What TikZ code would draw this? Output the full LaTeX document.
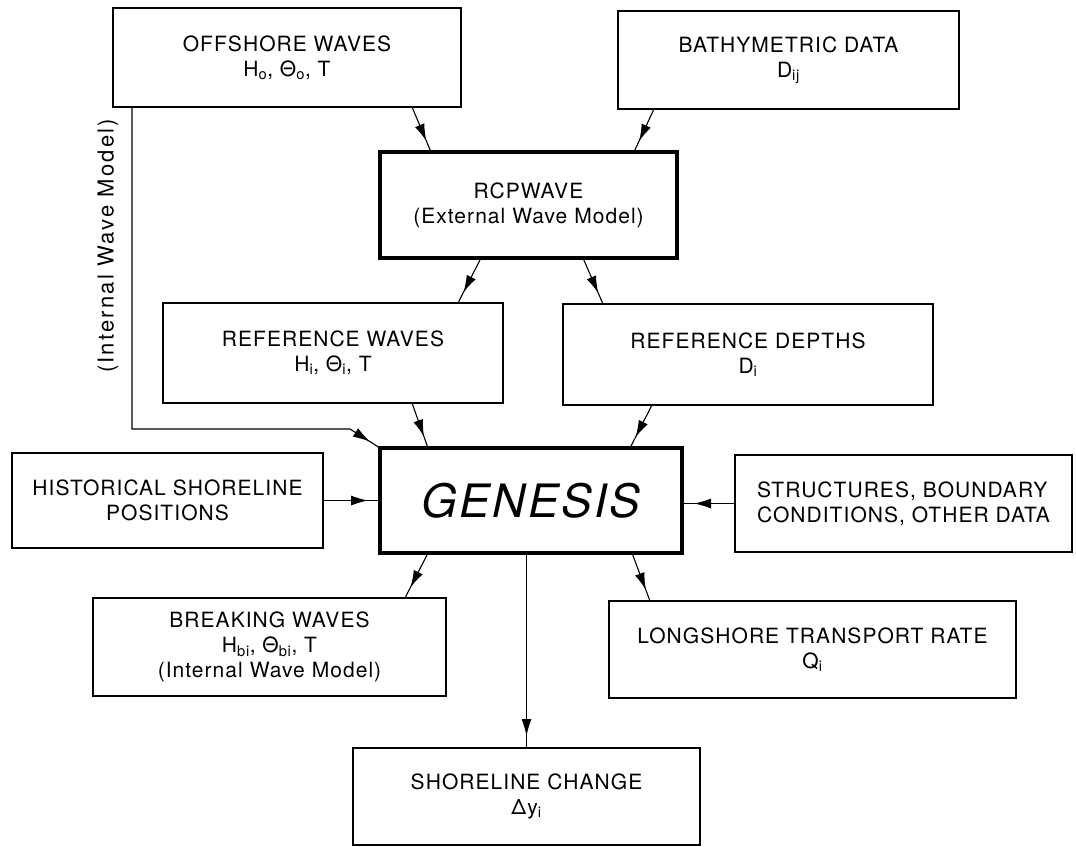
\documentclass[tikz,border=0pt]{standalone}
\usepackage{fontspec}
\setmainfont{TeX Gyre Heros}[LetterSpace=5]
\usetikzlibrary{arrows.meta,decorations.markings}

\tikzset{
  box/.style={draw, line width=2pt, inner sep=0pt, outer sep=0pt, align=center,
    font=\fontsize{21}{25}\selectfont},
  model/.style={box, line width=4.5pt},
  flow/.style={line width=1.1pt, postaction={decorate},
    decoration={markings, mark=at position -12pt with {\arrow{Latex[length=17pt,width=10pt]}}}}
}

\begin{document}
\begin{tikzpicture}[x=1pt,y=-1pt]
  \useasboundingbox (0,0) rectangle (1076,846);
  % inputs
  \node[box, minimum width=348, minimum height=99] (offshore) at (287,57.5)
    {OFFSHORE WAVES\\H\textsubscript{o}, Θ\textsubscript{o}, T};
  \node[box, minimum width=341, minimum height=98] (bathy) at (788.5,60)
    {BATHYMETRIC DATA\\D\textsubscript{ij}};
  \node[model, minimum width=297, minimum height=106] (rcp) at (528.5,205)
    {RCPWAVE\\(External Wave Model)};
  \node[box, minimum width=340, minimum height=100] (refwaves) at (333,353)
    {REFERENCE WAVES\\H\textsubscript{i}, Θ\textsubscript{i}, T};
  \node[box, minimum width=370, minimum height=101] (refdepths) at (748,354.5)
    {REFERENCE DEPTHS\\D\textsubscript{i}};
  % model
  \node[model, minimum width=302, minimum height=105,
    font=\fontsize{46}{50}\selectfont\itshape] (genesis) at (531,500.5) {GENESIS};
  \node[box, minimum width=311, minimum height=95] (hist) at (167.5,500.5)
    {HISTORICAL SHORELINE\\POSITIONS};
  \node[box, minimum width=337, minimum height=97, align=left] (struct) at (903.5,503.5)
    {STRUCTURES, BOUNDARY\\CONDITIONS, OTHER DATA};
  % outputs
  \node[box, minimum width=353, minimum height=98] (breaking) at (269.5,647)
    {BREAKING WAVES\\H\textsubscript{bi}, Θ\textsubscript{bi}, T\\(Internal Wave Model)};
  \node[box, minimum width=407, minimum height=97] (longshore) at (812.5,649.5)
    {LONGSHORE TRANSPORT RATE\\Q\textsubscript{i}};
  \node[box, minimum width=347, minimum height=97] (change) at (526.5,796.5)
    {SHORELINE CHANGE\\Δy\textsubscript{i}};
  \node[rotate=90, font=\fontsize{22}{25}\selectfont\addfontfeatures{LetterSpace=10}]
    (internal) at (108,246) {(Internal Wave Model)};
  \coordinate (bend) at (350,429);

  % connectors
  \draw[flow] ([xshift=125pt]offshore.south) -- ([xshift=-97.5pt]rcp.north);
  \draw[flow] ([xshift=-134.5pt]bathy.south) -- ([xshift=105.5pt]rcp.north);
  \draw[flow] ([xshift=-47.5pt]rcp.south) -- ([xshift=125pt]refwaves.north);
  \draw[flow] ([xshift=54.5pt]rcp.south) -- ([xshift=-145pt]refdepths.north);
  \draw[flow] ([xshift=79pt]refwaves.south) -- ([xshift=-103pt]genesis.north);
  \draw[flow] ([xshift=-96pt]refdepths.south) -- ([xshift=99pt]genesis.north);
  \draw[flow] ([xshift=-155pt]offshore.south) |- (bend) -- (genesis.north west);
  \draw[flow] (hist.east) -- (genesis.west);
  \draw[flow] (struct.west) -- (struct.west -| genesis.east);
  \draw[flow] ([xshift=-103pt]genesis.south) -- ([xshift=135.5pt]breaking.north);
  \draw[flow] ([xshift=101pt]genesis.south) -- ([xshift=-162.5pt]longshore.north);
  \draw[flow] (change.north |- genesis.south) -- (change.north);
\end{tikzpicture}
\end{document}
